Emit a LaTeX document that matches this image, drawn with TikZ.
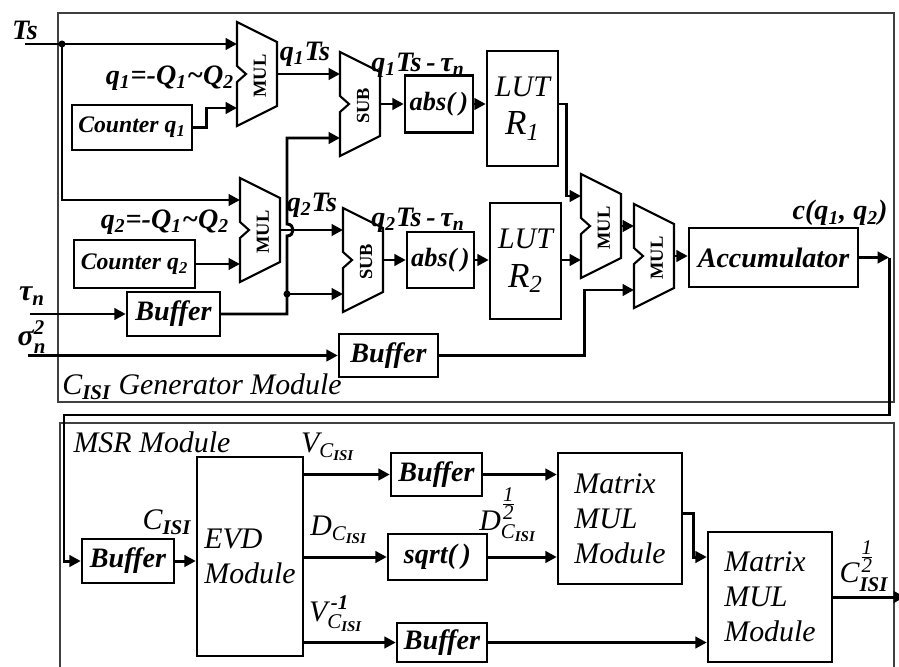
\documentclass[tikz,border=0pt]{standalone}
\usepackage{amsmath}
\usepackage{fontspec}
\setmainfont{Liberation Serif}
\usetikzlibrary{positioning, calc, arrows.meta}

\begin{document}
\begin{tikzpicture}[
            x=0.02cm, y=-0.02cm,
            >={Triangle[length=6.5pt,width=6.5pt]},
            block/.style={rectangle, draw, line width=1.4pt, inner sep=1pt, align=center, font=\fontsize{16}{18}\selectfont\bfseries\itshape},
            module/.style={block, align=left, font=\fontsize{17}{20}\selectfont\itshape},
            lut/.style={block, font=\fontsize{17}{20}\selectfont\itshape},
            tag/.style={inner sep=0pt, font=\fontsize{16}{18}\selectfont\bfseries\itshape},
            caption/.style={inner sep=0pt, font=\fontsize{17}{19}\selectfont\itshape},
            wire/.style={line width=1.7pt},
            link/.style={wire, ->},
            frame/.style={line width=0.8pt, black!75},
            dot/.style={circle, fill, inner sep=0pt, minimum size=4pt},
            alu/.pic={
                \draw[line width=1.2pt, fill=white] (0,0) -- (40,20) -- (40,84) -- (0,104) -- (0,60) -- (9,52) -- (0,44) -- cycle;
                \node[rotate=90, font=\fontsize{10.5}{12}\selectfont\bfseries] at (23,54) {#1};
                \coordinate (-in1) at (0,22);
                \coordinate (-in2) at (0,86);
                \coordinate (-out) at (40,52);
            }
        ]
            \useasboundingbox (0,0) rectangle (899,666);

            % --- Module frames ---
            \draw[frame] (58,13) rectangle (894,402);
            \draw[frame] (60,670) -- (60,423) -- (894,423) -- (894,670);

            % --- Inputs ---
            \node[tag] (ts) at (25,30) {Ts};
            \coordinate (tsin) at (25,44);
            \coordinate (tsj) at (62,44);
            \node[tag, font=\fontsize{17}{19}\selectfont\bfseries\itshape] (tau) at (32,296) {τ\textsubscript{n}};
            \coordinate (tauin) at (30,314);
            \node[tag, font=\fontsize{17}{19}\selectfont\bfseries\itshape] (sig) at (32,337) {$\text{σ}^{\text{2}}_{\text{n}}$};
            \coordinate (sigin) at (28,355.5);

            % --- Arithmetic units ---
            \pic (mul1) at (237,22) {alu=MUL};
            \pic (sub1) at (340,52) {alu=SUB};
            \pic (mul2) at (240,178) {alu=MUL};
            \pic (sub2) at (343,208) {alu=SUB};
            \pic (mul3) at (581,174) {alu=MUL};
            \pic (mul4) at (634,204) {alu=MUL};

            % --- Generator blocks ---
            \node[block, font=\fontsize{13.5}{15}\selectfont\bfseries\itshape, minimum width=2.4cm, minimum height=0.9cm] (cnt1) at (132,127.5) {Counter q\textsubscript{1}};
            \node[block, font=\fontsize{13.5}{15}\selectfont\bfseries\itshape, minimum width=2.42cm, minimum height=0.96cm] (cnt2) at (134.5,264) {Counter q\textsubscript{2}};
            \node[block, minimum width=1.86cm, minimum height=0.88cm] (buf1) at (173.5,314) {Buffer};
            \node[block, minimum width=1.98cm, minimum height=0.86cm] (buf2) at (388.5,355.5) {Buffer};
            \node[block, font=\fontsize{15}{17}\selectfont\bfseries\itshape, minimum width=1.36cm, minimum height=1.14cm] (abs1) at (439,104) {abs(\,)};
            \node[block, font=\fontsize{15}{17}\selectfont\bfseries\itshape, minimum width=1.34cm, minimum height=1.12cm] (abs2) at (440.5,260) {abs(\,)};
            \node[lut, minimum width=1.42cm, minimum height=2.3cm] (lut1) at (522.5,108.5) {LUT\\[2pt]{\fontsize{20}{22}\selectfont R\textsubscript{1}}};
            \node[lut, minimum width=1.42cm, minimum height=2.32cm] (lut2) at (525.5,261) {LUT\\[2pt]{\fontsize{20}{22}\selectfont R\textsubscript{2}}};
            \node[block, minimum width=3.38cm, minimum height=1.18cm] (acc) at (773.5,257.5) {Accumulator};

            % --- Generator labels ---
            \node[tag] (q1eq) at (170,78) {q\textsubscript{1}=-Q\textsubscript{1}\symbol{126}Q\textsubscript{2}};
            \node[tag] (q2eq) at (165,222) {q\textsubscript{2}=-Q\textsubscript{1}\symbol{126}Q\textsubscript{2}};
            \node[tag] (q1ts) at (305,54) {q\textsubscript{1}Ts};
            \node[tag] (d1) at (418,65) {q\textsubscript{1}Ts\,-\,τ\textsubscript{n}};
            \node[tag] (q2ts) at (312,205) {q\textsubscript{2}Ts};
            \node[tag] (d2) at (418,220) {q\textsubscript{2}Ts\,-\,τ\textsubscript{n}};
            \node[tag] (cq) at (840,213) {c(q\textsubscript{1}, q\textsubscript{2})};
            \node[caption, anchor=west] (genname) at (62,387) {C\textsubscript{\bfseries ISI} Generator Module};

            % --- Generator wiring ---
            \draw[link] (tsin) -- (mul1-in1);
            \draw[link] (tsj) |- (mul2-in1);
            \node[dot] (tsdot) at (tsj) {};
            \draw[link] (cnt1.east) -- ++(13,0) |- (mul1-in2);
            \draw[link] (cnt2.east) -- (mul2-in2);
            \draw[link] (mul1-out) -- (sub1-in1);
            \draw[link] (mul2-out) -- (sub2-in1);
            \draw[link] (tauin) -- (buf1);
            \coordinate (tj) at (287,294);
            \draw[link] (buf1.east) -| (tj) -- (287,236) .. controls (295,236) and (295,224) .. (287,224) |- (sub1-in2);
            \draw[link] (tj) -- (sub2-in2);
            \node[dot] (tjdot) at (tj) {};
            \draw[link] (sigin) -- (buf2);
            \draw[link] (sub1-out) -- (abs1.west);
            \draw[link] (sub2-out) -- (abs2.west);
            \draw[link] (abs1.east) -- (abs1.east -| lut1.west);
            \draw[link] (abs2.east) -- (abs2.east -| lut2.west);
            \draw[link] (lut1.east |- abs1.east) -- ++(7,0) |- (mul3-in1);
            \draw[link] (mul3-in2 -| lut2.east) -- (mul3-in2);
            \draw[link] (mul3-out) -- (mul4-in1);
            \draw[link] (buf2.east) -- ++(145,0) |- (mul4-in2);
            \draw[link] (mul4-out) -- (mul4-out -| acc.west);

            % --- MSR blocks ---
            \node[caption] (msrname) at (152,442) {MSR Module};
            \node[block, minimum width=1.84cm, minimum height=0.88cm] (mbuf) at (128,561) {Buffer};
            \node[module, minimum width=2.12cm, minimum height=3.98cm] (evd) at (250,556.5) {EVD\\Module};
            \node[block, minimum width=1.82cm, minimum height=0.86cm] (vbuf) at (436.5,474.5) {Buffer};
            \node[block, minimum width=1.98cm, minimum height=0.92cm] (sqrtb) at (437.5,557) {sqrt(\,)};
            \node[block, minimum width=1.8cm, minimum height=0.78cm] (ibuf) at (442,642.5) {Buffer};
            \node[module, minimum width=2.48cm, minimum height=2.62cm] (mm1) at (620,518.5) {Matrix\\MUL\\Module};
            \node[module, minimum width=2.48cm, minimum height=2.6cm] (mm2) at (770,597) {Matrix\\MUL\\Module};

            % Feedback to MSR module
            \coordinate (fb) at (889,257.5);
            \draw[link] (acc.east) -- (fb);
            \draw[link] (fb) |- (64,415) |- (mbuf.west);

            % --- MSR labels ---
            \node[caption] (cisi) at (167,522) {C\textsubscript{\bfseries ISI}};
            \node[caption] (vlab) at (328,447) {$\text{V}_{\text{C}_{\text{\bfseries ISI}}}$};
            \node[caption] (dlab) at (339,530) {$\text{D}_{\text{C}_{\text{\bfseries ISI}}}$};
            \node[caption] (vilab) at (336,614) {$\text{V}^{\,\text{\bfseries -1}}_{\text{C}_{\text{\bfseries ISI}}}$};
            \node[caption] (dhalf) at (508,515) {$\text{D}^{\frac{\scriptstyle\text{1}}{\scriptstyle\text{2}}}_{\text{C}_{\text{\bfseries ISI}}}$};
            \node[caption] (chalf) at (864,566) {$\text{C}^{\frac{\scriptstyle\text{1}}{\scriptstyle\text{2}}}_{\text{\bfseries ISI}}$};

            % --- MSR wiring ---
            \draw[link] (mbuf.east) -- (mbuf.east -| evd.west);
            \draw[link] (evd.east |- vbuf.west) -- (vbuf.west);
            \draw[link] (evd.east |- sqrtb.west) -- (sqrtb.west);
            \draw[link] (evd.east |- ibuf.west) -- (ibuf.west);
            \draw[link] (vbuf.east) -- (vbuf.east -| mm1.west);
            \draw[link] (sqrtb.east) -- (sqrtb.east -| mm1.west);
            \draw[link] ($(mm1.east)+(0,-5)$) -- ++(10,0) |- (mm2.west |- sqrtb.east);
            \draw[link] (ibuf.east) -- (ibuf.east -| mm2.west);
            \coordinate (out) at (905,597);
            \draw[link] (mm2.east) -- (out);
        \end{tikzpicture}
\end{document}
